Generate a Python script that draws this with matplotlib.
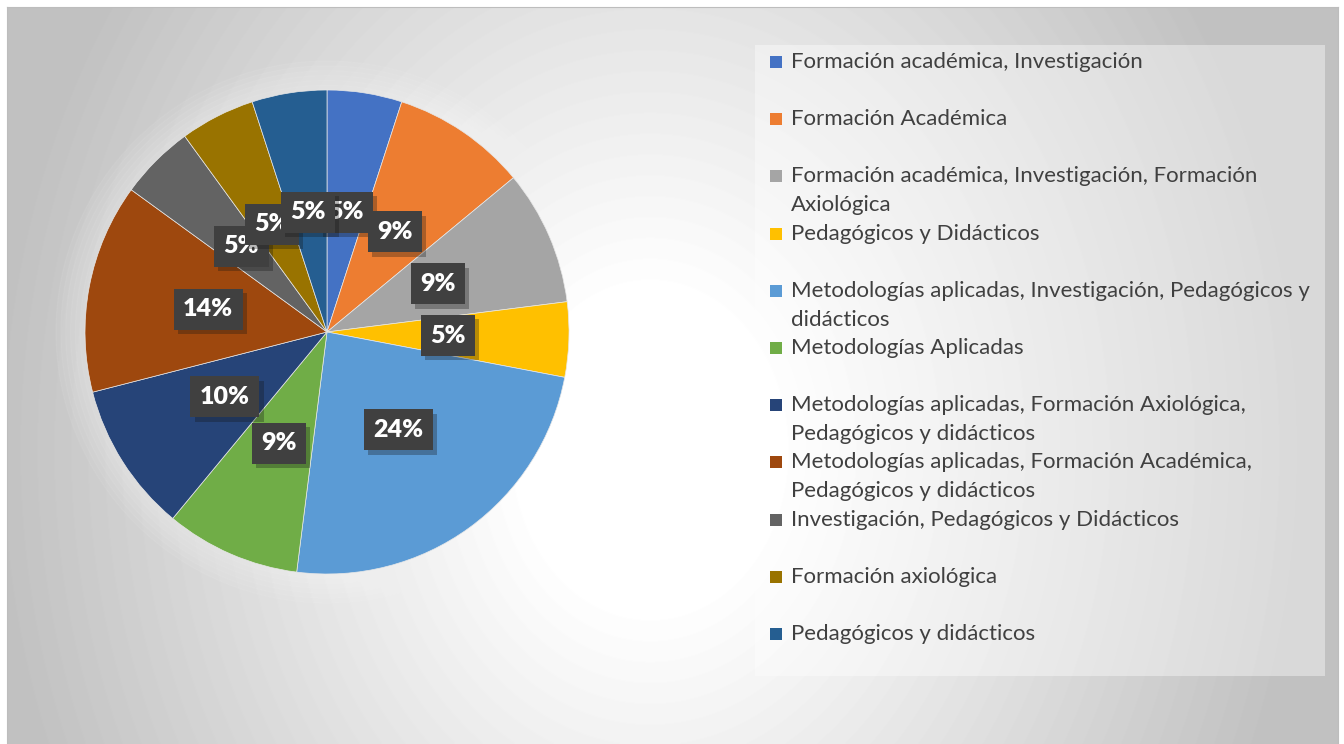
import numpy as np
import matplotlib.pyplot as plt
from matplotlib.patches import Rectangle, Circle
import matplotlib.patheffects as pe

categorias = ['Formación académica, Investigación',
              'Formación Académica',
              'Formación académica, Investigación, Formación\nAxiológica',
              'Pedagógicos y Didácticos',
              'Metodologías aplicadas, Investigación, Pedagógicos y\ndidácticos',
              'Metodologías Aplicadas',
              'Metodologías aplicadas, Formación Axiológica,\nPedagógicos y didácticos',
              'Metodologías aplicadas, Formación Académica,\nPedagógicos y didácticos',
              'Investigación, Pedagógicos y Didácticos',
              'Formación axiológica',
              'Pedagógicos y didácticos']
valores = [5, 9, 9, 5, 24, 9, 10, 14, 5, 5, 5]
colores = ['#4472C4', '#ED7D31', '#A5A5A5', '#FFC000', '#5B9BD5', '#70AD47',
           '#264478', '#9E480E', '#636363', '#997300', '#255E91']

W, H = 1344, 744
fig = plt.figure(figsize=(W / 100, H / 100), dpi=100)

# fondo con degradado radial
bg = fig.add_axes([7 / W, 0, (1338 - 7) / W, (744 - 7) / H])
yy, xx = np.mgrid[7:744, 7:1338]
d = np.sqrt(((xx - 650) / 650.0) ** 2 + ((yy - 450) / 800.0) ** 2)
t = np.clip((d - 0.2) / 0.8, 0, 1)
img = 1 - t * 0.24
bg.imshow(img, cmap='gray', vmin=0, vmax=1, extent=(0, 1, 0, 1), aspect='auto', origin='upper')
bg.set_xticks([])
bg.set_yticks([])
for s in ['top', 'left', 'right']:
    bg.spines[s].set_color('#bdbdbd')
bg.spines['bottom'].set_visible(False)

# pastel
cx, cy, R = 327, 332, 242
ax = fig.add_axes([(cx - R) / W, (H - cy - R) / H, 2 * R / W, 2 * R / H])
for r in np.linspace(1.12, 1.0, 7):
    ax.add_patch(Circle((0, 0), r, color='white', alpha=0.06, zorder=0, clip_on=False))
wedges, texts, autotexts = ax.pie(valores, colors=colores, startangle=90, counterclock=False,
                                  autopct='%1.0f%%', pctdistance=0.5,
                                  wedgeprops=dict(edgecolor='#e8e8e8', linewidth=0.5))
ax.set_xlim(-1, 1)
ax.set_ylim(-1, 1)
ax.axis('off')
for a in autotexts:
    a.set_color('white')
    a.set_fontsize(18)
    a.set_fontweight('heavy')
    a.set_family('Lato')
    a.set_bbox(dict(boxstyle='square,pad=0.38', fc='#404040', ec='none'))
    a.get_bbox_patch().set_path_effects([pe.SimplePatchShadow(offset=(3, -3), alpha=0.3), pe.Normal()])

# leyenda
ov = fig.add_axes([0, 0, 1, 1])
ov.set_xlim(0, W)
ov.set_ylim(H, 0)
ov.axis('off')
ov.add_patch(Rectangle((755, 45), 570, 631, fc='white', alpha=0.4, ec='none'))
for i, (lab, col) in enumerate(zip(categorias, colores)):
    base = 68 + 57.2 * i
    extra = lab.count('\n') * 29
    ov.add_patch(Rectangle((770, base - 12), 12, 12, fc=col, ec='none'))
    ov.text(791, base + extra, lab, fontsize=16, family='Lato', color='#404040',
            va='baseline', ha='left', linespacing=1.58)

fig.savefig('out.png', dpi=100)
